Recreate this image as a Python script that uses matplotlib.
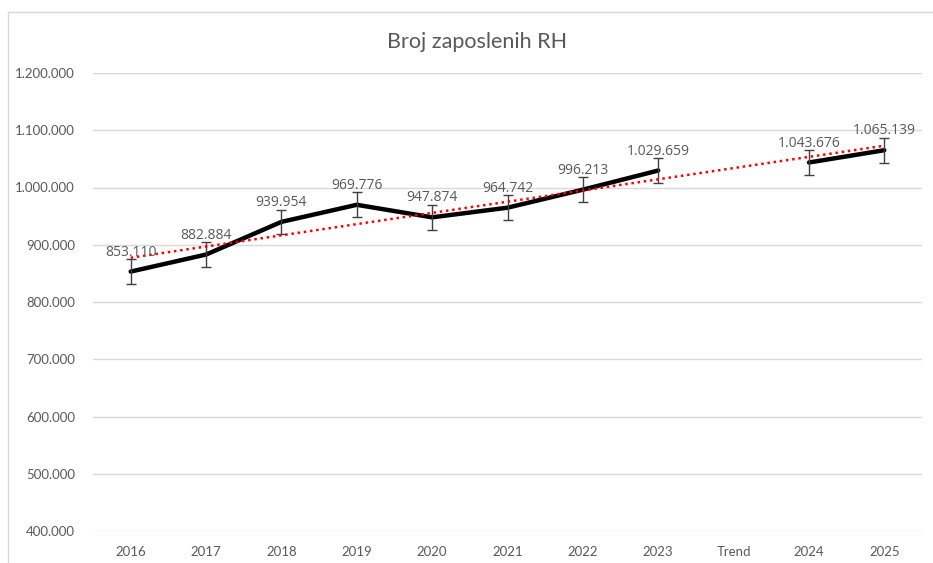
import matplotlib
matplotlib.use("Agg")
import matplotlib.pyplot as plt
import numpy as np
from matplotlib.patches import Rectangle

# categories and values (blank slot before the projected years)
categories = ['2016', '2017', '2018', '2019', '2020', '2021', '2022', '2023', 'Trend', '2024', '2025']
values = [853110, 882884, 939954, 969776, 947874, 964742, 996213, 1029659, None, 1043676, 1065139]
err = 21500  # error bar size (standard error)
yticks = [400000, 500000, 600000, 700000, 800000, 900000, 1000000, 1100000, 1200000]

def fmt(v):
    return f"{v:,.0f}".replace(',', '.')

W, H = 933, 563
fig = plt.figure(figsize=(W / 100, H / 100), dpi=100)
ax = fig.add_axes([93 / W, 1 - 531 / H, (922 - 93) / W, (531 - 73) / H])

x = np.arange(len(categories))
y = np.array([np.nan if v is None else v for v in values], dtype=float)
ok = ~np.isnan(y)

grey = '#595959'

# gridlines
for t in yticks:
    ax.axhline(t, color='#d9d9d9', lw=1, zorder=0)

# main line (segments broken at the gap)
ax.plot(x, y, color='black', lw=3.2, solid_capstyle='round', solid_joinstyle='round', zorder=3)

# error bars
ax.errorbar(x[ok], y[ok], yerr=err, fmt='none', ecolor='#404040', elinewidth=1,
            capsize=3.5, capthick=1, zorder=4)

# linear trend line
k, b = np.polyfit(x[ok], y[ok], 1)
xt = np.array([x[0], x[-1]])
ax.plot(xt, k * xt + b, color='#ff0000', lw=1.8, linestyle=(0, (1, 1.5)), zorder=5)

# data labels
for xi, v in zip(x, values):
    if v is None:
        continue
    ax.annotate(fmt(v), (xi, v), xytext=(0, 14), textcoords='offset points',
                ha='center', va='center', fontsize=10, color=grey,
                family='Open Sans', zorder=6)

ax.set_xlim(-0.5, len(categories) - 0.5)
ax.set_ylim(400000, 1200000)
ax.set_xticks(x)
ax.set_xticklabels(categories, family='Lato', fontsize=9.5, color=grey)
ax.set_yticks(yticks)
ax.set_yticklabels([fmt(t) for t in yticks], family='Lato', fontsize=9.5, color=grey)
ax.tick_params(axis='both', length=0)
ax.tick_params(axis='y', pad=13)
ax.tick_params(axis='x', pad=11)
for s in ax.spines.values():
    s.set_visible(False)

fig.text(477 / W, 1 - 42 / H, 'Broj zaposlenih RH', ha='center', va='center',
         fontsize=15.5, color=grey, family='Lato')

# chart area border
fig.add_artist(Rectangle((8 / W, -0.1), 1.2, (H - 12) / H + 0.1, transform=fig.transFigure,
                         fill=False, ec='#d9d9d9', lw=1))

fig.savefig('out.png', dpi=100)
